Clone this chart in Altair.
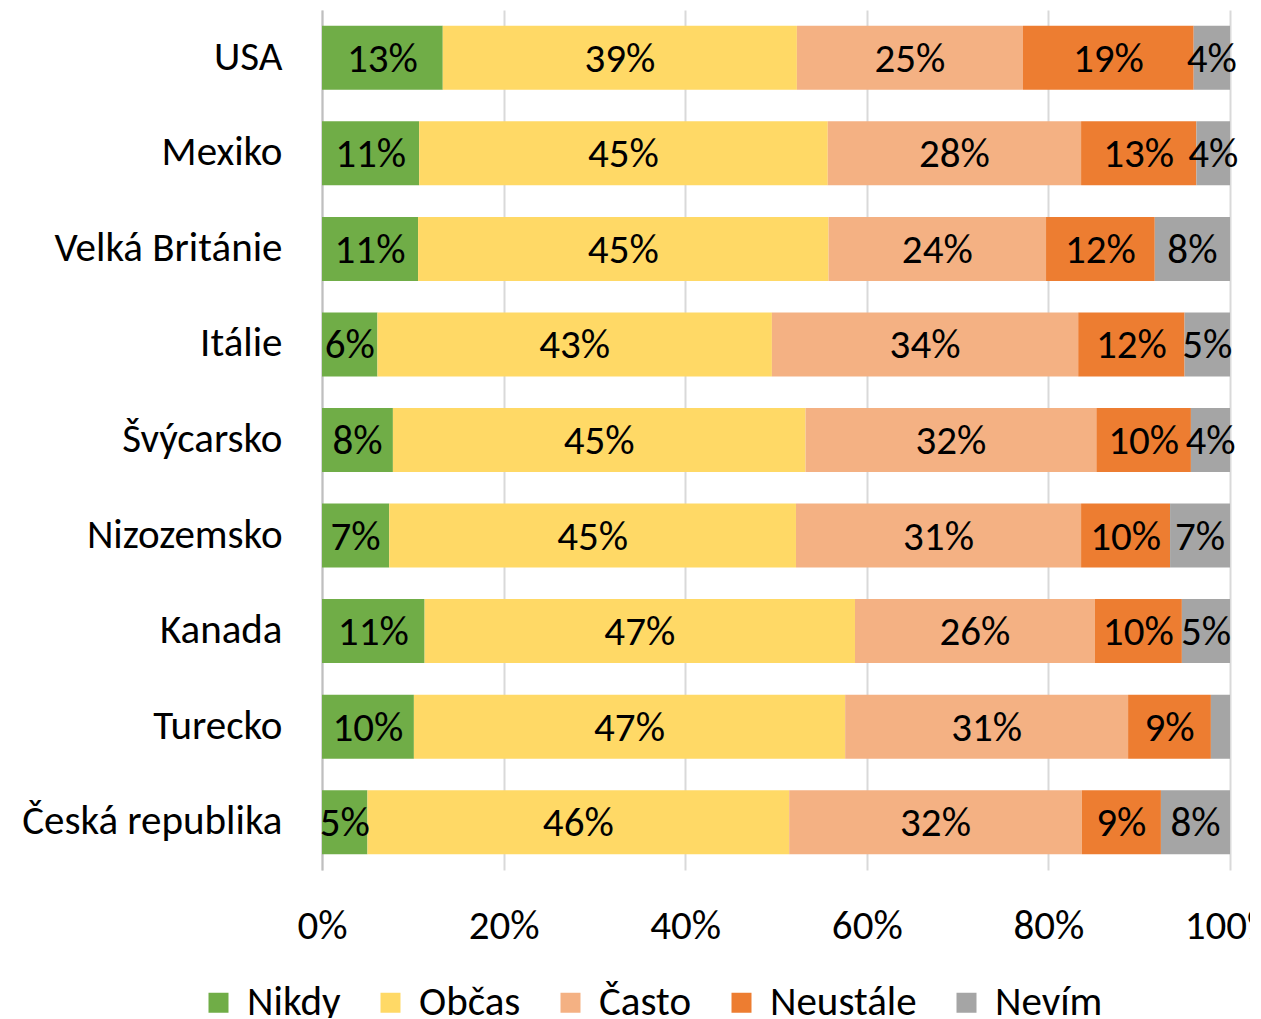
import altair as alt
import pandas as pd

countries = ["USA", "Mexiko", "Velká Británie", "Itálie", "Švýcarsko",
             "Nizozemsko", "Kanada", "Turecko", "Česká republika"]
categories = ["Nikdy", "Občas", "Často", "Neustále", "Nevím"]
colors = ["#70AD47", "#FFD966", "#F4B183", "#ED7D31", "#A5A5A5"]

nikdy    = [13.3, 10.7, 10.6, 6.1, 7.8, 7.4, 11.3, 10.1, 5.0]
obcas    = [39.0, 45.0, 45.3, 43.4, 45.4, 44.8, 47.4, 47.4, 46.4]
casto    = [24.9, 27.9, 24.0, 33.7, 32.0, 31.4, 26.4, 31.1, 32.2]
neustale = [18.8, 12.7, 12.0, 11.7, 10.4, 9.8, 9.6, 9.1, 8.7]
nevim    = [4.0, 3.7, 8.3, 5.0, 4.3, 6.6, 5.3, 2.1, 7.6]

series = [nikdy, obcas, casto, neustale, nevim]
rows = []
for ci, cat in enumerate(categories):
    for i, c in enumerate(countries):
        rows.append({"country": c, "cat": cat, "order": ci, "value": series[ci][i]})
df = pd.DataFrame(rows)

FONT = "Calibri, Carlito, Lato, sans-serif"
FS = 41

base = alt.Chart(df).transform_stack(
    stack="value", groupby=["country"], as_=["x0", "x1"],
    offset="normalize", sort=[alt.SortField("order", order="ascending")]
).transform_calculate(
    mid="(datum.x0 + datum.x1) / 2",
    label="round(datum.value) + '%'"
)

yenc = alt.Y("country:N", sort=countries,
             scale=alt.Scale(paddingInner=0.33, paddingOuter=0.165),
             axis=alt.Axis(title=None, labelFontSize=FS, labelFont=FONT,
                           labelColor="#000000", labelPadding=40, ticks=False,
                           domain=True, domainColor="#BFBFBF", domainWidth=2,
                           labelLimit=400))

bars = base.mark_bar().encode(
    x=alt.X("x0:Q", scale=alt.Scale(domain=[0, 1]),
            axis=alt.Axis(title=None, format=".0%", values=[0, 0.2, 0.4, 0.6, 0.8, 1.0],
                          labelFontSize=FS, labelFont=FONT, labelColor="#000000",
                          ticks=False, domain=False, labelPadding=36,
                          grid=True, gridColor="#D9D9D9", gridWidth=2,
                          labelFlush=False)),
    x2="x1:Q",
    y=yenc,
    color=alt.Color("cat:N", sort=categories,
                    scale=alt.Scale(domain=categories, range=colors),
                    legend=alt.Legend(title=None, orient="none", direction="horizontal",
                                      legendX=-124, legendY=972,
                                      symbolType="square", symbolSize=400,
                                      symbolStrokeWidth=0, labelFontSize=41,
                                      labelFont=FONT, labelColor="#000000",
                                      labelOffset=8, columnPadding=29, padding=0)),
    order=alt.Order("order:Q")
)

texts = base.transform_filter("datum.value >= 3").mark_text(
    fontSize=FS, font=FONT, color="#000000", baseline="middle", align="center", dy=2
).encode(
    x="mid:Q",
    y=alt.Y("country:N", sort=countries),
    text="label:N"
)

chart = alt.layer(bars, texts).properties(
    width=908, height=860,
    autosize=alt.AutoSizeParams(type="none"),
    padding={"left": 314, "top": 2, "right": 20, "bottom": 148}
).configure_view(stroke=None).configure_axisX(gridDash=[])

chart.save("out.html", embed_options={"renderer": "svg", "actions": False})
